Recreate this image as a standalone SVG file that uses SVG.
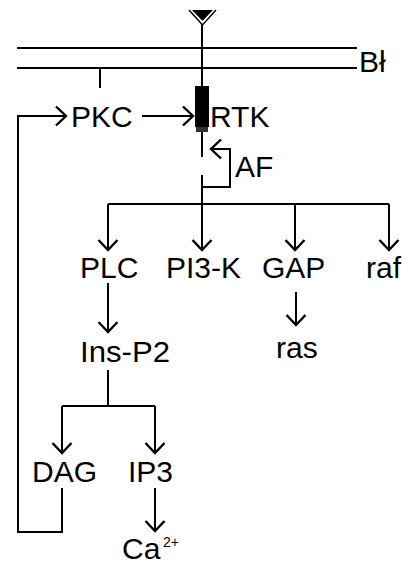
<svg xmlns="http://www.w3.org/2000/svg" width="408" height="565" viewBox="0 0 408 565">
<defs>
<style>
.ln{fill:none;stroke:#000;stroke-width:2;}
.ar{marker-end:url(#chev);}
.t{font-family:"Liberation Sans",Arial,Helvetica,sans-serif;font-size:30px;fill:#000;}
.sup{font-family:"Liberation Sans",Arial,Helvetica,sans-serif;font-size:14px;fill:#000;}
</style>
<marker id="chev" markerUnits="userSpaceOnUse" markerWidth="26" markerHeight="26" viewBox="-13 -13 26 26" refX="0" refY="0" orient="auto">
<path d="M-10,-9.5 L0,0 L-10,9.5" fill="none" stroke="#000" stroke-width="2.4"/>
</marker>
</defs>
<rect width="408" height="565" fill="#fff"/>

<g id="membrane">
<line class="ln" x1="17" y1="48" x2="357" y2="48"/>
<line class="ln" x1="17" y1="68" x2="357" y2="68"/>
<text class="t" x="359" y="72">Bł</text>
<line class="ln" x1="100" y1="68" x2="100" y2="88"/>
</g>

<g id="ligand">
<polygon points="192,10 213,10 202.5,21" fill="#000"/>
<polyline points="189,10 202.5,25 216,10" fill="none" stroke="#000" stroke-width="1.5"/>
</g>

<g id="RTK">
<line class="ln" x1="202" y1="24" x2="202" y2="86"/>
<rect x="195" y="86" width="14" height="41" fill="#000"/>
<rect x="196" y="127" width="12" height="5" fill="#333"/>
<text class="t" x="210" y="127">RTK</text>
</g>

<g id="PKC"><text class="t" x="71" y="127">PKC</text></g>
<g id="AF"><text class="t" x="235" y="177">AF</text></g>
<g id="PLC"><text class="t" x="80" y="278">PLC</text></g>
<g id="PI3K"><text class="t" x="166" y="278">PI3-K</text></g>
<g id="GAP"><text class="t" x="262" y="278">GAP</text></g>
<g id="raf"><text class="t" x="366" y="278">raf</text></g>
<g id="ras"><text class="t" x="276" y="358">ras</text></g>
<g id="InsP2"><text class="t" x="80" y="362" textLength="90" lengthAdjust="spacingAndGlyphs">Ins-P2</text></g>
<g id="DAG"><text class="t" x="32" y="482">DAG</text></g>
<g id="IP3"><text class="t" x="128" y="482">IP3</text></g>
<g id="Ca"><text class="t" x="122" y="559">Ca</text><text class="sup" x="163" y="547">2+</text></g>

<g id="connectors">
<line class="ln ar" x1="142" y1="116" x2="193" y2="116"/>
<line class="ln" x1="202" y1="132" x2="202" y2="157"/>
<polyline class="ln ar" points="202,187 230,187 230,149 211,149"/>
<line class="ln ar" x1="202" y1="175" x2="202" y2="250"/>
<line class="ln" x1="108" y1="204" x2="389" y2="204"/>
<line class="ln ar" x1="108" y1="204" x2="108" y2="250"/>
<line class="ln ar" x1="295" y1="204" x2="295" y2="250"/>
<line class="ln ar" x1="389" y1="204" x2="389" y2="250"/>
<line class="ln ar" x1="296" y1="292" x2="296" y2="325"/>
<line class="ln ar" x1="108" y1="283" x2="108" y2="332"/>
<line class="ln" x1="108" y1="370" x2="108" y2="406"/>
<line class="ln" x1="62" y1="406" x2="155" y2="406"/>
<line class="ln ar" x1="62" y1="406" x2="62" y2="453"/>
<line class="ln ar" x1="155" y1="406" x2="155" y2="453"/>
<line class="ln ar" x1="155" y1="488" x2="155" y2="531"/>
<polyline class="ln ar" points="62,488 62,532 18,532 18,116 66,116"/>
</g>
</svg>
